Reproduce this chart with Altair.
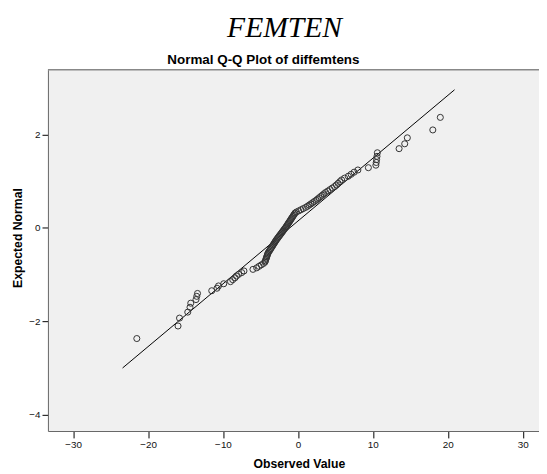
import altair as alt
import pandas as pd

# ---- data ----
observed = [
    -21.5, -16.0, -15.8, -14.7, -14.4, -14.3, -13.6, -13.5, -13.4, -11.5,
    -10.8, -10.6, -9.9, -9.0, -8.7, -8.4, -8.2, -7.9, -7.5, -7.2,
    -6.0, -5.5, -5.2, -4.9, -4.6, -4.4,
    -4.34, -4.28, -4.22, -4.16, -4.11, -4.05, -4.0, -3.90, -3.80, -3.70,
    -3.61, -3.50, -3.41, -3.32, -3.22, -3.13, -3.04, -2.95, -2.84, -2.74,
    -2.64, -2.53, -2.42, -2.32, -2.21, -2.11, -2.0, -1.90, -1.80, -1.69,
    -1.59, -1.50, -1.41, -1.32, -1.23, -1.13, -1.04, -0.95, -0.86, -0.77,
    -0.67, -0.58, -0.48, -0.39, -0.20, 0.10, 0.40, 0.70, 1.02, 1.27,
    1.49, 1.72, 1.95, 2.18, 2.42, 2.62, 2.83, 3.04, 3.26, 3.48,
    3.70, 4.0, 4.28, 4.57, 4.88, 5.13, 5.36, 5.59, 5.83, 6.23,
    6.72, 7.1, 7.5, 8.0, 9.4, 10.4, 10.45, 10.5, 10.55, 10.6,
    13.5, 14.25, 14.6, 18.0, 19.0,
]
expected = [
    -2.369, -2.100, -1.931, -1.803, -1.699, -1.611, -1.534, -1.465, -1.403, -1.345,
    -1.291, -1.242, -1.195, -1.150, -1.108, -1.068, -1.029, -0.992, -0.956, -0.921,
    -0.887, -0.854, -0.822, -0.792, -0.761, -0.732, -0.703, -0.674, -0.646, -0.619,
    -0.592, -0.566, -0.540, -0.514, -0.489, -0.464, -0.440, -0.414, -0.390, -0.366,
    -0.342, -0.319, -0.295, -0.272, -0.248, -0.225, -0.203, -0.180, -0.157, -0.135,
    -0.112, -0.090, -0.067, -0.045, -0.022, 0.0,
    0.022, 0.045, 0.067, 0.090, 0.112, 0.135, 0.157, 0.180, 0.203, 0.225,
    0.248, 0.272, 0.295, 0.319, 0.342, 0.366, 0.390, 0.414, 0.440, 0.464,
    0.489, 0.514, 0.540, 0.566, 0.592, 0.619, 0.646, 0.674, 0.703, 0.732,
    0.761, 0.792, 0.822, 0.854, 0.887, 0.921, 0.956, 0.992, 1.029, 1.068,
    1.108, 1.150, 1.195, 1.242, 1.291, 1.345, 1.403, 1.465, 1.534, 1.611,
    1.699, 1.803, 1.931, 2.100, 2.369,
]
line_observed = [-23.4, 20.9]
line_expected = [-3.0, 2.96]

x_ticks = [-30, -20, -10, 0, 10, 20, 30]
y_ticks = [-4, -2, 0, 2]
x_domain = [-33.36, 32.17]
y_domain = [-4.35, 3.39]

main_title = ["FEMTEN"]
sub_title = ["Normal Q-Q Plot of diffemtens"]
x_title = "Observed Value"
y_title = "Expected Normal"

assert len(observed) == len(expected)

# ---- chart ----
W, H = 498, 366.4
SANS = "Liberation Sans"

pts = pd.DataFrame({"obs": observed, "exp": expected})
ln = pd.DataFrame({"obs": line_observed, "exp": line_expected})

xsc = alt.Scale(domain=x_domain, nice=False, zero=False)
ysc = alt.Scale(domain=y_domain, nice=False, zero=False)

x_axis = alt.Axis(
    values=x_ticks, title=x_title, grid=False,
    tickSize=7, tickColor="#000", tickWidth=1,
    domainColor="#666", domainWidth=1,
    labelFont=SANS, labelFontSize=10, labelColor="#111", labelPadding=2,
    labelFlush=False,
    titleFont=SANS, titleFontSize=12.4, titleFontWeight="bold", titleColor="#000",
    titleX=254.5, titleY=37, titleBaseline="alphabetic", titleAlign="center",
)
y_axis = alt.Axis(
    values=y_ticks, title=y_title, grid=False,
    tickSize=6, tickColor="#000", tickWidth=1,
    domainColor="#666", domainWidth=1,
    labelFont=SANS, labelFontSize=10, labelColor="#111", labelPadding=2,
    labelFlush=False,
    titleFont=SANS, titleFontSize=12.4, titleFontWeight="bold", titleColor="#000",
    titleAngle=270, titleX=-30.5, titleY=170.2,
    titleBaseline="middle", titleAlign="center",
)

line = alt.Chart(ln).mark_line(color="#000", strokeWidth=1).encode(
    x=alt.X("obs:Q", scale=xsc, axis=x_axis),
    y=alt.Y("exp:Q", scale=ysc, axis=y_axis),
)

points = alt.Chart(pts).mark_point(
    shape="circle", filled=False, size=38, color="#333", strokeWidth=1, opacity=1
).encode(
    x=alt.X("obs:Q", scale=xsc),
    y=alt.Y("exp:Q", scale=ysc),
)

top_border = alt.Chart(pd.DataFrame({"k": [0]})).mark_rule(
    color="#888", strokeWidth=1.5
).encode(x=alt.value(0), x2=alt.value(W), y=alt.value(0))

t1 = alt.Chart(pd.DataFrame({"t": main_title})).mark_text(
    font="Liberation Serif", fontStyle="italic", fontSize=30,
    align="center", baseline="alphabetic", color="#000"
).encode(text="t:N", x=alt.value(240), y=alt.value(-33.3))

t2 = alt.Chart(pd.DataFrame({"t": sub_title})).mark_text(
    font=SANS, fontWeight="bold", fontSize=13.6,
    align="center", baseline="alphabetic", color="#000"
).encode(text="t:N", x=alt.value(218.5), y=alt.value(-6.3))

chart = alt.layer(top_border, line, points, t1, t2).properties(
    width=W, height=H,
    autosize=alt.AutoSizeParams(type="none"),
    padding={"left": 40.5, "top": 59.3, "right": 0, "bottom": 40.3},
    background="#ffffff",
).configure_view(fill="#f0f0f0", strokeWidth=0)

chart.save("out.html", embed_options={"renderer": "svg", "actions": False})
